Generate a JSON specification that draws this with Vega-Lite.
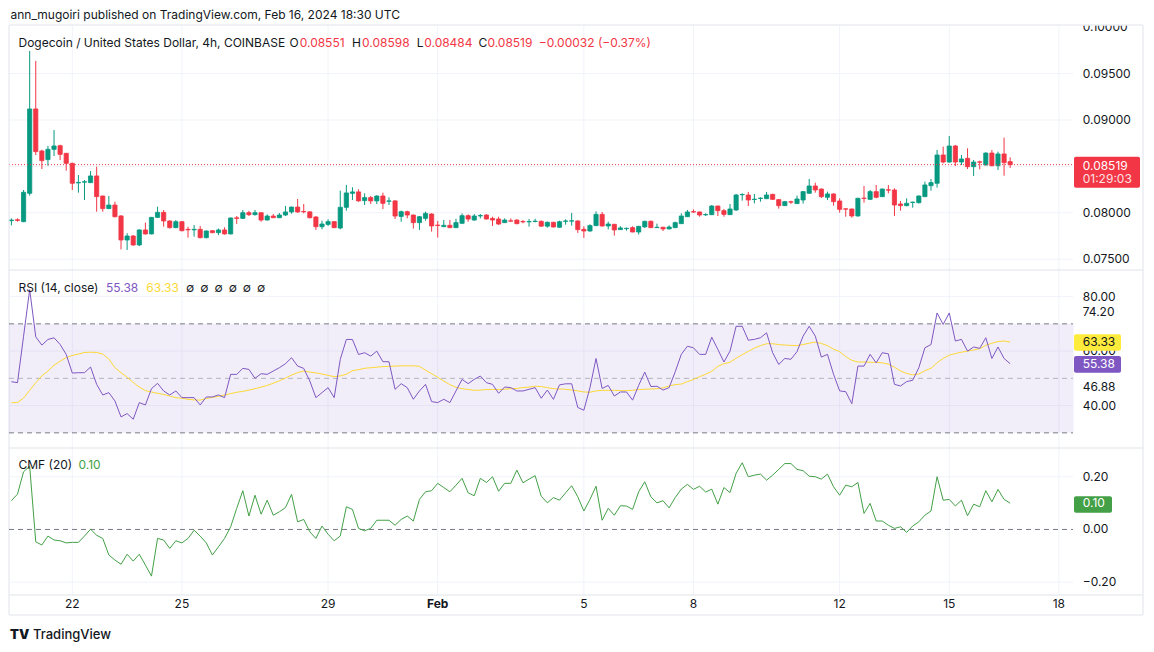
{
"$schema":"https://vega.github.io/schema/vega-lite/v6.json",
"width":1154,"height":652,
"autosize":{"type":"fit","contains":"padding"},
"padding":0,
"background":"#ffffff",
"config":{"view":{"stroke":null},"font":"Inter","text":{"font":"Inter","fontSize":12}},
"data":{"name":"candles","format":{"parse":{"t":"utc:'%Y-%m-%d %H'"}}},
"datasets":{"candles":[
{"t":"2024-01-20 08","o":0.07915,"h":0.0794,"l":0.07865,"c":0.07922,"r":48.78,"m":41.1,"f":0.109},
{"t":"2024-01-20 12","o":0.07925,"h":0.0794,"l":0.07905,"c":0.07918,"r":48.41,"m":41.1,"f":0.134},
{"t":"2024-01-20 16","o":0.07904,"h":0.08246,"l":0.079,"c":0.08221,"r":65.49,"m":42.8,"f":0.219},
{"t":"2024-01-20 20","o":0.0821,"h":0.09744,"l":0.08185,"c":0.09119,"r":82.56,"m":45.6,"f":0.24},
{"t":"2024-01-21 00","o":0.09119,"h":0.09636,"l":0.08623,"c":0.08659,"r":65.24,"m":48.4,"f":-0.047},
{"t":"2024-01-21 04","o":0.08666,"h":0.0868,"l":0.08472,"c":0.08562,"r":62.2,"m":50.9,"f":-0.059},
{"t":"2024-01-21 08","o":0.08573,"h":0.0872,"l":0.08508,"c":0.08684,"r":64.27,"m":52.7,"f":-0.025},
{"t":"2024-01-21 12","o":0.08684,"h":0.08892,"l":0.08612,"c":0.0872,"r":64.88,"m":54.8,"f":-0.04},
{"t":"2024-01-21 16","o":0.08723,"h":0.08734,"l":0.08569,"c":0.0863,"r":62.44,"m":56.3,"f":-0.043},
{"t":"2024-01-21 20","o":0.08641,"h":0.08645,"l":0.08454,"c":0.08533,"r":58.78,"m":57.6,"f":-0.051},
{"t":"2024-01-22 00","o":0.08533,"h":0.0854,"l":0.08246,"c":0.08318,"r":51.95,"m":58.4,"f":-0.049},
{"t":"2024-01-22 04","o":0.08322,"h":0.08407,"l":0.08217,"c":0.08328,"r":52.07,"m":58.9,"f":-0.049},
{"t":"2024-01-22 08","o":0.0833,"h":0.08353,"l":0.08138,"c":0.08335,"r":52.07,"m":59.5,"f":-0.025},
{"t":"2024-01-22 12","o":0.08325,"h":0.0845,"l":0.0832,"c":0.08397,"r":54.15,"m":59.6,"f":0.001},
{"t":"2024-01-22 16","o":0.08397,"h":0.08497,"l":0.08012,"c":0.08174,"r":47.8,"m":59.5,"f":-0.022},
{"t":"2024-01-22 20","o":0.08181,"h":0.08185,"l":0.08012,"c":0.08045,"r":43.9,"m":58.9,"f":-0.034},
{"t":"2024-01-23 00","o":0.08045,"h":0.08181,"l":0.0804,"c":0.08084,"r":44.76,"m":57.1,"f":-0.097},
{"t":"2024-01-23 04","o":0.08084,"h":0.0812,"l":0.0795,"c":0.07958,"r":41.71,"m":53.9,"f":-0.116},
{"t":"2024-01-23 08","o":0.07966,"h":0.07975,"l":0.07606,"c":0.07707,"r":35.85,"m":52.1,"f":-0.132},
{"t":"2024-01-23 12","o":0.07707,"h":0.0778,"l":0.07599,"c":0.0775,"r":37.07,"m":50.4,"f":-0.094},
{"t":"2024-01-23 16","o":0.0775,"h":0.0776,"l":0.07645,"c":0.07653,"r":35.0,"m":48.5,"f":-0.12},
{"t":"2024-01-23 20","o":0.07653,"h":0.07822,"l":0.07642,"c":0.07815,"r":41.1,"m":46.8,"f":-0.094},
{"t":"2024-01-24 00","o":0.07815,"h":0.07894,"l":0.07765,"c":0.07772,"r":40.24,"m":45.5,"f":-0.135},
{"t":"2024-01-24 04","o":0.07772,"h":0.07955,"l":0.07768,"c":0.07951,"r":46.22,"m":45.0,"f":-0.177},
{"t":"2024-01-24 08","o":0.07951,"h":0.08066,"l":0.07945,"c":0.08005,"r":48.17,"m":44.5,"f":-0.034},
{"t":"2024-01-24 12","o":0.08005,"h":0.0803,"l":0.07851,"c":0.07912,"r":45.37,"m":44.1,"f":-0.04},
{"t":"2024-01-24 16","o":0.07912,"h":0.07918,"l":0.0783,"c":0.0784,"r":43.9,"m":43.5,"f":-0.072},
{"t":"2024-01-24 20","o":0.0784,"h":0.07922,"l":0.07835,"c":0.07904,"r":45.37,"m":42.9,"f":-0.043},
{"t":"2024-01-25 00","o":0.07904,"h":0.0791,"l":0.078,"c":0.07807,"r":42.93,"m":42.7,"f":-0.051},
{"t":"2024-01-25 04","o":0.07822,"h":0.0785,"l":0.07732,"c":0.07816,"r":42.93,"m":42.3,"f":-0.034},
{"t":"2024-01-25 08","o":0.07816,"h":0.07868,"l":0.07743,"c":0.07822,"r":42.93,"m":42.1,"f":-0.003},
{"t":"2024-01-25 12","o":0.07822,"h":0.07858,"l":0.07725,"c":0.07732,"r":40.24,"m":42.0,"f":-0.025},
{"t":"2024-01-25 16","o":0.07732,"h":0.0781,"l":0.07725,"c":0.07804,"r":43.17,"m":42.6,"f":-0.051},
{"t":"2024-01-25 20","o":0.07807,"h":0.07812,"l":0.0778,"c":0.07786,"r":43.17,"m":43.0,"f":-0.097},
{"t":"2024-01-26 00","o":0.07786,"h":0.0783,"l":0.0776,"c":0.07815,"r":43.9,"m":43.4,"f":-0.066},
{"t":"2024-01-26 04","o":0.07815,"h":0.07844,"l":0.07765,"c":0.07772,"r":42.93,"m":43.9,"f":-0.034},
{"t":"2024-01-26 08","o":0.07772,"h":0.0795,"l":0.07768,"c":0.07944,"r":51.46,"m":44.4,"f":0.01},
{"t":"2024-01-26 12","o":0.07946,"h":0.07965,"l":0.0788,"c":0.0794,"r":51.46,"m":44.9,"f":0.08},
{"t":"2024-01-26 16","o":0.0794,"h":0.0803,"l":0.07935,"c":0.08001,"r":53.66,"m":45.2,"f":0.147},
{"t":"2024-01-26 20","o":0.08001,"h":0.0802,"l":0.07965,"c":0.0798,"r":53.29,"m":45.7,"f":0.051},
{"t":"2024-01-27 00","o":0.0798,"h":0.0803,"l":0.0797,"c":0.08001,"r":50.0,"m":46.2,"f":0.13},
{"t":"2024-01-27 04","o":0.08001,"h":0.08005,"l":0.07904,"c":0.07922,"r":51.71,"m":46.8,"f":0.058},
{"t":"2024-01-27 08","o":0.07922,"h":0.07983,"l":0.07918,"c":0.07965,"r":51.46,"m":47.4,"f":0.111},
{"t":"2024-01-27 12","o":0.07965,"h":0.07987,"l":0.07943,"c":0.07947,"r":52.68,"m":48.2,"f":0.054},
{"t":"2024-01-27 16","o":0.07947,"h":0.07998,"l":0.07943,"c":0.07976,"r":53.9,"m":49.1,"f":0.067},
{"t":"2024-01-27 20","o":0.07976,"h":0.08074,"l":0.07965,"c":0.08009,"r":55.37,"m":50.1,"f":0.083},
{"t":"2024-01-28 00","o":0.08009,"h":0.08066,"l":0.0799,"c":0.08062,"r":57.56,"m":51.2,"f":0.133},
{"t":"2024-01-28 04","o":0.08062,"h":0.08149,"l":0.08,"c":0.08009,"r":54.51,"m":52.1,"f":0.029},
{"t":"2024-01-28 08","o":0.08014,"h":0.08095,"l":0.07994,"c":0.0801,"r":53.66,"m":52.7,"f":0.038},
{"t":"2024-01-28 12","o":0.0801,"h":0.08016,"l":0.0794,"c":0.07947,"r":49.02,"m":52.3,"f":-0.009},
{"t":"2024-01-28 16","o":0.07955,"h":0.07965,"l":0.07815,"c":0.0785,"r":42.93,"m":52.0,"f":-0.034},
{"t":"2024-01-28 20","o":0.0785,"h":0.07915,"l":0.07822,"c":0.07879,"r":44.76,"m":51.6,"f":0.013},
{"t":"2024-01-29 00","o":0.07875,"h":0.0793,"l":0.07858,"c":0.07905,"r":46.59,"m":51.1,"f":-0.018},
{"t":"2024-01-29 04","o":0.07905,"h":0.0791,"l":0.07835,"c":0.0784,"r":42.93,"m":50.6,"f":-0.043},
{"t":"2024-01-29 08","o":0.07836,"h":0.08239,"l":0.07822,"c":0.08059,"r":56.95,"m":50.9,"f":-0.025},
{"t":"2024-01-29 12","o":0.08059,"h":0.083,"l":0.08023,"c":0.08214,"r":64.27,"m":51.5,"f":0.086},
{"t":"2024-01-29 16","o":0.0821,"h":0.08275,"l":0.08138,"c":0.08225,"r":64.27,"m":52.8,"f":0.076},
{"t":"2024-01-29 20","o":0.08225,"h":0.08253,"l":0.0812,"c":0.08128,"r":58.78,"m":53.2,"f":0.004},
{"t":"2024-01-30 00","o":0.08131,"h":0.0821,"l":0.08084,"c":0.08164,"r":59.39,"m":53.7,"f":-0.005},
{"t":"2024-01-30 04","o":0.08164,"h":0.08181,"l":0.08095,"c":0.08128,"r":58.17,"m":53.9,"f":0.004},
{"t":"2024-01-30 08","o":0.08128,"h":0.0819,"l":0.08095,"c":0.08181,"r":60.0,"m":54.1,"f":0.035},
{"t":"2024-01-30 12","o":0.08181,"h":0.08217,"l":0.08041,"c":0.08102,"r":56.1,"m":54.3,"f":0.035},
{"t":"2024-01-30 16","o":0.08124,"h":0.08167,"l":0.08084,"c":0.08128,"r":56.1,"m":54.4,"f":0.035},
{"t":"2024-01-30 20","o":0.08128,"h":0.08135,"l":0.07933,"c":0.07965,"r":45.98,"m":54.5,"f":0.016},
{"t":"2024-01-31 00","o":0.07961,"h":0.08023,"l":0.07904,"c":0.08012,"r":48.05,"m":54.6,"f":0.038},
{"t":"2024-01-31 04","o":0.08012,"h":0.08023,"l":0.0794,"c":0.07976,"r":46.59,"m":54.6,"f":0.051},
{"t":"2024-01-31 08","o":0.07976,"h":0.0798,"l":0.0783,"c":0.07894,"r":42.32,"m":54.6,"f":0.032},
{"t":"2024-01-31 12","o":0.07894,"h":0.07965,"l":0.07815,"c":0.07958,"r":45.37,"m":54.4,"f":0.114},
{"t":"2024-01-31 16","o":0.0794,"h":0.08012,"l":0.07915,"c":0.07994,"r":47.8,"m":53.0,"f":0.143},
{"t":"2024-01-31 20","o":0.07987,"h":0.07995,"l":0.07797,"c":0.07858,"r":41.46,"m":51.7,"f":0.147},
{"t":"2024-02-01 00","o":0.07868,"h":0.07912,"l":0.07733,"c":0.07863,"r":41.1,"m":50.4,"f":0.175},
{"t":"2024-02-01 04","o":0.07851,"h":0.07922,"l":0.07845,"c":0.07865,"r":42.32,"m":49.0,"f":0.159},
{"t":"2024-02-01 08","o":0.07865,"h":0.07922,"l":0.07835,"c":0.0784,"r":41.1,"m":47.7,"f":0.143},
{"t":"2024-02-01 12","o":0.0784,"h":0.07936,"l":0.07835,"c":0.07894,"r":45.37,"m":46.7,"f":0.168},
{"t":"2024-02-01 16","o":0.07887,"h":0.07994,"l":0.0788,"c":0.07969,"r":49.63,"m":46.2,"f":0.194},
{"t":"2024-02-01 20","o":0.07969,"h":0.07983,"l":0.07904,"c":0.07933,"r":48.05,"m":45.9,"f":0.139},
{"t":"2024-02-02 00","o":0.07922,"h":0.07987,"l":0.07915,"c":0.07965,"r":49.63,"m":45.6,"f":0.128},
{"t":"2024-02-02 04","o":0.07966,"h":0.07987,"l":0.0794,"c":0.0797,"r":50.85,"m":45.7,"f":0.194},
{"t":"2024-02-02 08","o":0.07976,"h":0.07985,"l":0.07928,"c":0.07933,"r":48.41,"m":45.9,"f":0.178},
{"t":"2024-02-02 12","o":0.0794,"h":0.07958,"l":0.07858,"c":0.07922,"r":47.8,"m":45.9,"f":0.2},
{"t":"2024-02-02 16","o":0.07933,"h":0.07958,"l":0.07869,"c":0.07879,"r":44.51,"m":45.9,"f":0.145},
{"t":"2024-02-02 20","o":0.07894,"h":0.0794,"l":0.0789,"c":0.07922,"r":46.83,"m":46.0,"f":0.175},
{"t":"2024-02-03 00","o":0.07914,"h":0.0794,"l":0.07904,"c":0.0791,"r":46.59,"m":46.2,"f":0.175},
{"t":"2024-02-03 04","o":0.07922,"h":0.0793,"l":0.07876,"c":0.07883,"r":45.37,"m":46.3,"f":0.225},
{"t":"2024-02-03 08","o":0.07906,"h":0.07922,"l":0.07887,"c":0.07902,"r":45.37,"m":46.6,"f":0.177},
{"t":"2024-02-03 12","o":0.07902,"h":0.07933,"l":0.07851,"c":0.07906,"r":45.98,"m":46.8,"f":0.191},
{"t":"2024-02-03 16","o":0.07906,"h":0.07936,"l":0.07897,"c":0.0791,"r":46.59,"m":47.1,"f":0.204},
{"t":"2024-02-03 20","o":0.07908,"h":0.07918,"l":0.0785,"c":0.07856,"r":42.7,"m":47.0,"f":0.126},
{"t":"2024-02-04 00","o":0.07856,"h":0.07905,"l":0.0784,"c":0.07898,"r":45.7,"m":46.6,"f":0.101},
{"t":"2024-02-04 04","o":0.07898,"h":0.07902,"l":0.07842,"c":0.07847,"r":42.3,"m":46.2,"f":0.121},
{"t":"2024-02-04 08","o":0.07844,"h":0.07915,"l":0.0784,"c":0.07904,"r":47.6,"m":46.1,"f":0.111},
{"t":"2024-02-04 12","o":0.07908,"h":0.0793,"l":0.07872,"c":0.07912,"r":48.0,"m":46.0,"f":0.139},
{"t":"2024-02-04 16","o":0.0791,"h":0.07998,"l":0.07862,"c":0.07914,"r":48.0,"m":45.7,"f":0.166},
{"t":"2024-02-04 20","o":0.07912,"h":0.07918,"l":0.07783,"c":0.07819,"r":39.3,"m":45.4,"f":0.124},
{"t":"2024-02-05 00","o":0.07822,"h":0.07855,"l":0.07729,"c":0.07804,"r":38.3,"m":45.0,"f":0.07},
{"t":"2024-02-05 04","o":0.07804,"h":0.07876,"l":0.07795,"c":0.07862,"r":46.6,"m":44.9,"f":0.114},
{"t":"2024-02-05 08","o":0.07862,"h":0.08016,"l":0.07855,"c":0.07983,"r":57.3,"m":45.4,"f":0.164},
{"t":"2024-02-05 12","o":0.07983,"h":0.08009,"l":0.0785,"c":0.07858,"r":46.3,"m":45.6,"f":0.035},
{"t":"2024-02-05 16","o":0.07858,"h":0.07905,"l":0.07822,"c":0.07879,"r":47.4,"m":45.6,"f":0.08},
{"t":"2024-02-05 20","o":0.07876,"h":0.0788,"l":0.07754,"c":0.07815,"r":43.5,"m":45.6,"f":0.054},
{"t":"2024-02-06 00","o":0.07819,"h":0.07855,"l":0.07815,"c":0.07837,"r":45.0,"m":45.5,"f":0.09},
{"t":"2024-02-06 04","o":0.07829,"h":0.0784,"l":0.07808,"c":0.07833,"r":45.0,"m":45.5,"f":0.089},
{"t":"2024-02-06 08","o":0.0784,"h":0.07855,"l":0.0779,"c":0.07793,"r":42.0,"m":45.6,"f":0.076},
{"t":"2024-02-06 12","o":0.07793,"h":0.0786,"l":0.07765,"c":0.07854,"r":47.4,"m":45.9,"f":0.143},
{"t":"2024-02-06 16","o":0.07848,"h":0.07915,"l":0.07836,"c":0.07908,"r":52.3,"m":46.0,"f":0.181},
{"t":"2024-02-06 20","o":0.07908,"h":0.07918,"l":0.07835,"c":0.0784,"r":47.0,"m":46.1,"f":0.124},
{"t":"2024-02-07 00","o":0.0784,"h":0.07883,"l":0.07836,"c":0.07844,"r":47.1,"m":46.2,"f":0.101},
{"t":"2024-02-07 04","o":0.07844,"h":0.0785,"l":0.07804,"c":0.07826,"r":45.7,"m":46.5,"f":0.109},
{"t":"2024-02-07 08","o":0.07826,"h":0.07865,"l":0.07822,"c":0.07847,"r":46.6,"m":47.2,"f":0.082},
{"t":"2024-02-07 12","o":0.0784,"h":0.07905,"l":0.07836,"c":0.07894,"r":52.4,"m":47.7,"f":0.121},
{"t":"2024-02-07 16","o":0.07883,"h":0.07994,"l":0.0788,"c":0.07965,"r":58.8,"m":47.9,"f":0.153},
{"t":"2024-02-07 20","o":0.07958,"h":0.0803,"l":0.07955,"c":0.08009,"r":61.8,"m":48.8,"f":0.171},
{"t":"2024-02-08 00","o":0.08012,"h":0.08037,"l":0.08,"c":0.08008,"r":61.2,"m":49.6,"f":0.152},
{"t":"2024-02-08 04","o":0.08009,"h":0.08012,"l":0.07958,"c":0.07976,"r":58.8,"m":50.6,"f":0.164},
{"t":"2024-02-08 08","o":0.07978,"h":0.07994,"l":0.07965,"c":0.07982,"r":58.8,"m":51.5,"f":0.142},
{"t":"2024-02-08 12","o":0.0798,"h":0.08084,"l":0.07975,"c":0.08073,"r":65.1,"m":52.6,"f":0.153},
{"t":"2024-02-08 16","o":0.08073,"h":0.08078,"l":0.07965,"c":0.08023,"r":60.6,"m":54.4,"f":0.096},
{"t":"2024-02-08 20","o":0.08023,"h":0.08041,"l":0.07958,"c":0.07983,"r":56.0,"m":55.4,"f":0.159},
{"t":"2024-02-09 00","o":0.0798,"h":0.08095,"l":0.07976,"c":0.08041,"r":60.0,"m":55.9,"f":0.14},
{"t":"2024-02-09 04","o":0.0803,"h":0.08203,"l":0.0802,"c":0.08192,"r":69.1,"m":57.4,"f":0.213},
{"t":"2024-02-09 08","o":0.08194,"h":0.0821,"l":0.08131,"c":0.08198,"r":69.1,"m":58.7,"f":0.253},
{"t":"2024-02-09 12","o":0.08192,"h":0.08225,"l":0.08073,"c":0.08138,"r":64.0,"m":59.9,"f":0.2},
{"t":"2024-02-09 16","o":0.08143,"h":0.08203,"l":0.08102,"c":0.08147,"r":64.3,"m":61.1,"f":0.206},
{"t":"2024-02-09 20","o":0.08154,"h":0.08167,"l":0.0812,"c":0.08158,"r":64.9,"m":62.0,"f":0.21},
{"t":"2024-02-10 00","o":0.08152,"h":0.08225,"l":0.08148,"c":0.08192,"r":66.7,"m":62.7,"f":0.187},
{"t":"2024-02-10 04","o":0.08199,"h":0.08205,"l":0.0814,"c":0.08145,"r":59.4,"m":62.7,"f":0.206},
{"t":"2024-02-10 08","o":0.08142,"h":0.08148,"l":0.08045,"c":0.08077,"r":55.1,"m":62.4,"f":0.228},
{"t":"2024-02-10 12","o":0.08077,"h":0.08125,"l":0.08073,"c":0.0812,"r":57.3,"m":62.2,"f":0.25},
{"t":"2024-02-10 16","o":0.08119,"h":0.08131,"l":0.08095,"c":0.08115,"r":57.0,"m":62.1,"f":0.25},
{"t":"2024-02-10 20","o":0.08099,"h":0.08185,"l":0.08095,"c":0.08149,"r":59.8,"m":62.0,"f":0.228},
{"t":"2024-02-11 00","o":0.08138,"h":0.08235,"l":0.08099,"c":0.08228,"r":65.5,"m":62.4,"f":0.223},
{"t":"2024-02-11 04","o":0.0821,"h":0.08365,"l":0.08205,"c":0.08289,"r":69.1,"m":62.9,"f":0.202},
{"t":"2024-02-11 08","o":0.08289,"h":0.08325,"l":0.08217,"c":0.08246,"r":65.5,"m":63.3,"f":0.2},
{"t":"2024-02-11 12","o":0.08256,"h":0.08262,"l":0.0816,"c":0.08174,"r":57.8,"m":62.8,"f":0.191},
{"t":"2024-02-11 16","o":0.08167,"h":0.08228,"l":0.08138,"c":0.08203,"r":58.8,"m":62.0,"f":0.21},
{"t":"2024-02-11 20","o":0.08203,"h":0.0821,"l":0.08077,"c":0.0812,"r":51.5,"m":60.7,"f":0.162},
{"t":"2024-02-12 00","o":0.08127,"h":0.08156,"l":0.08001,"c":0.08037,"r":45.4,"m":59.8,"f":0.13},
{"t":"2024-02-12 04","o":0.08043,"h":0.08048,"l":0.07958,"c":0.08039,"r":45.1,"m":58.0,"f":0.168},
{"t":"2024-02-12 08","o":0.08041,"h":0.08045,"l":0.07948,"c":0.07966,"r":40.7,"m":56.6,"f":0.162},
{"t":"2024-02-12 12","o":0.07966,"h":0.08163,"l":0.07958,"c":0.08156,"r":54.5,"m":56.0,"f":0.178},
{"t":"2024-02-12 16","o":0.08158,"h":0.08289,"l":0.08109,"c":0.08154,"r":54.5,"m":56.0,"f":0.061},
{"t":"2024-02-12 20","o":0.08145,"h":0.08246,"l":0.0814,"c":0.08228,"r":58.8,"m":55.9,"f":0.099},
{"t":"2024-02-13 00","o":0.08228,"h":0.083,"l":0.08156,"c":0.08167,"r":55.7,"m":55.9,"f":0.032},
{"t":"2024-02-13 04","o":0.08174,"h":0.08262,"l":0.0817,"c":0.08256,"r":59.4,"m":55.7,"f":0.032},
{"t":"2024-02-13 08","o":0.08248,"h":0.083,"l":0.0821,"c":0.08244,"r":59.0,"m":55.2,"f":0.016},
{"t":"2024-02-13 12","o":0.08246,"h":0.08264,"l":0.07966,"c":0.08084,"r":47.8,"m":54.1,"f":0.004},
{"t":"2024-02-13 16","o":0.08095,"h":0.08127,"l":0.08023,"c":0.08077,"r":47.2,"m":52.7,"f":0.01},
{"t":"2024-02-13 20","o":0.08077,"h":0.08156,"l":0.0807,"c":0.08102,"r":48.8,"m":51.8,"f":-0.011},
{"t":"2024-02-14 00","o":0.08111,"h":0.0812,"l":0.08055,"c":0.08115,"r":49.3,"m":51.3,"f":0.013},
{"t":"2024-02-14 04","o":0.08109,"h":0.08188,"l":0.081,"c":0.08181,"r":53.9,"m":51.6,"f":0.029},
{"t":"2024-02-14 08","o":0.08174,"h":0.08336,"l":0.0817,"c":0.083,"r":61.2,"m":52.8,"f":0.054},
{"t":"2024-02-14 12","o":0.08292,"h":0.08364,"l":0.08239,"c":0.08325,"r":62.4,"m":53.7,"f":0.07},
{"t":"2024-02-14 16","o":0.08318,"h":0.08677,"l":0.08271,"c":0.08623,"r":74.0,"m":55.7,"f":0.2},
{"t":"2024-02-14 20","o":0.08623,"h":0.08713,"l":0.08533,"c":0.08547,"r":69.8,"m":57.3,"f":0.111},
{"t":"2024-02-15 00","o":0.08547,"h":0.08828,"l":0.0854,"c":0.0872,"r":74.0,"m":58.5,"f":0.114},
{"t":"2024-02-15 04","o":0.0872,"h":0.08731,"l":0.08504,"c":0.08547,"r":63.7,"m":59.1,"f":0.089},
{"t":"2024-02-15 08","o":0.08547,"h":0.08623,"l":0.08515,"c":0.0858,"r":64.3,"m":59.6,"f":0.111},
{"t":"2024-02-15 12","o":0.08587,"h":0.08695,"l":0.08472,"c":0.08497,"r":60.0,"m":60.0,"f":0.052},
{"t":"2024-02-15 16","o":0.08497,"h":0.08569,"l":0.08397,"c":0.08547,"r":61.5,"m":60.4,"f":0.096},
{"t":"2024-02-15 20","o":0.08549,"h":0.08562,"l":0.08468,"c":0.08545,"r":61.0,"m":60.9,"f":0.086},
{"t":"2024-02-16 00","o":0.08515,"h":0.08652,"l":0.0851,"c":0.08644,"r":64.9,"m":62.1,"f":0.147},
{"t":"2024-02-16 04","o":0.08644,"h":0.08677,"l":0.085,"c":0.08508,"r":57.3,"m":62.9,"f":0.105},
{"t":"2024-02-16 08","o":0.08508,"h":0.08659,"l":0.08461,"c":0.08634,"r":61.5,"m":63.5,"f":0.152},
{"t":"2024-02-16 12","o":0.08634,"h":0.0881,"l":0.084,"c":0.0854,"r":57.3,"m":63.7,"f":0.114},
{"t":"2024-02-16 16","o":0.08551,"h":0.08598,"l":0.08484,"c":0.08519,"r":55.38,"m":63.33,"f":0.1}
]},
"layer":[
{"layer":[
 {"data":{"values":[{"t":"2024-01-22 00"},{"t":"2024-01-25 00"},{"t":"2024-01-29 00"},{"t":"2024-02-01 00"},{"t":"2024-02-05 00"},{"t":"2024-02-08 00"},{"t":"2024-02-12 00"},{"t":"2024-02-15 00"},{"t":"2024-02-18 00"}],"format":{"parse":{"t":"utc:'%Y-%m-%d %H'"}}},
  "mark":{"type":"rule","stroke":"#F0F3FA","strokeWidth":1},
  "encoding":{"x":{"field":"t","type":"temporal","axis":null},"y":{"datum":0.100237,"type":"quantitative","axis":null},"y2":{"datum":0.038815}}},
 {"data":{"values":[{"v":0.075},{"v":0.08},{"v":0.085},{"v":0.09},{"v":0.095}]},
  "mark":{"type":"rule","stroke":"#F0F3FA","strokeWidth":1},
  "encoding":{"x":{"datum":{"year":2024,"month":1,"date":20,"hours":6,"minutes":25,"utc":true},"type":"temporal","axis":null},"x2":{"datum":{"year":2024,"month":2,"date":18,"hours":9,"minutes":16,"utc":true}},"y":{"field":"v","type":"quantitative","axis":null}}},
 {"mark":{"type":"rule","strokeWidth":1},
  "encoding":{
   "x":{"field":"t","type":"temporal","scale":{"type":"utc","domain":[{"year":2024,"month":1,"date":20,"hours":0,"minutes":30,"seconds":36,"utc":true},{"year":2024,"month":2,"date":20,"hours":14,"minutes":28,"seconds":23,"utc":true}],"nice":false,"padding":0},"axis":null},
   "y":{"field":"l","type":"quantitative","scale":{"domain":[0.032672,0.102931],"zero":false,"nice":false},"axis":null},
   "y2":{"field":"h"},
   "color":{"condition":{"test":"datum.c >= datum.o","value":"#089981"},"value":"#F23645"}}},
 {"mark":{"type":"bar","width":4.2,"strokeWidth":0.8},
  "encoding":{"x":{"field":"t","type":"temporal","axis":null},"y":{"field":"o","type":"quantitative","axis":null},"y2":{"field":"c"},
   "fill":{"condition":{"test":"datum.c >= datum.o","value":"#089981"},"value":"#F23645"},
   "stroke":{"condition":{"test":"datum.c >= datum.o","value":"#089981"},"value":"#F23645"}}},
 {"data":{"values":[{}]},"mark":{"type":"rule","stroke":"#F23645","strokeDash":[1,2],"strokeWidth":1},
  "encoding":{"x":{"datum":{"year":2024,"month":1,"date":20,"hours":6,"minutes":25,"utc":true},"type":"temporal","axis":null},"x2":{"datum":{"year":2024,"month":2,"date":18,"hours":9,"minutes":16,"utc":true}},"y":{"datum":0.08519,"type":"quantitative","axis":null}}},
 {"data":{"values":[{"v":0.075},{"v":0.08},{"v":0.09},{"v":0.095},{"v":0.1}]},
  "mark":{"type":"text","align":"left","baseline":"middle","dx":8.7,"fontSize":12,"color":"#131722","font":"Inter"},
  "encoding":{"x":{"datum":{"year":2024,"month":2,"date":18,"hours":9,"minutes":56,"utc":true},"type":"temporal","axis":null},"y":{"field":"v","type":"quantitative","axis":null},"text":{"field":"v","type":"quantitative","format":".5f"}}},
 {"data":{"values":[{}]},"mark":{"type":"rect","fill":"#ffffff"},
  "encoding":{"x":{"datum":{"year":2024,"month":2,"date":18,"hours":9,"minutes":36,"utc":true},"type":"temporal","axis":null},"x2":{"datum":{"year":2024,"month":2,"date":20,"hours":14,"minutes":28,"seconds":23,"utc":true}},"y":{"datum":0.100183,"type":"quantitative","axis":null},"y2":{"datum":0.102931}}},
 {"data":{"values":[{}]},
  "encoding":{"x":{"datum":{"year":2024,"month":1,"date":20,"hours":6,"minutes":25,"utc":true},"type":"temporal","axis":null},"x2":{"datum":{"year":2024,"month":2,"date":20,"hours":7,"minutes":15,"utc":true}}},
  "layer":[
   {"mark":{"type":"rule","stroke":"#E0E3EB","strokeWidth":1},"encoding":{"y":{"datum":0.100237,"type":"quantitative","axis":null}}},
   {"mark":{"type":"rule","stroke":"#E0E3EB","strokeWidth":1},"encoding":{"y":{"datum":0.073836,"type":"quantitative","axis":null}}},
   {"mark":{"type":"rule","stroke":"#E0E3EB","strokeWidth":1},"encoding":{"y":{"datum":0.054655,"type":"quantitative","axis":null}}},
   {"mark":{"type":"rule","stroke":"#E0E3EB","strokeWidth":1},"encoding":{"y":{"datum":0.038815,"type":"quantitative","axis":null}}},
   {"mark":{"type":"rule","stroke":"#E0E3EB","strokeWidth":1},"encoding":{"y":{"datum":0.036659,"type":"quantitative","axis":null}}}
  ]},
 {"data":{"values":[{}]},
  "encoding":{"y":{"datum":0.100237,"type":"quantitative","axis":null},"y2":{"datum":0.036659}},
  "layer":[
   {"mark":{"type":"rule","stroke":"#E0E3EB","strokeWidth":1},"encoding":{"x":{"datum":{"year":2024,"month":1,"date":20,"hours":6,"minutes":25,"utc":true},"type":"temporal","axis":null}}},
   {"mark":{"type":"rule","stroke":"#E0E3EB","strokeWidth":1},"encoding":{"x":{"datum":{"year":2024,"month":2,"date":20,"hours":7,"minutes":15,"utc":true},"type":"temporal","axis":null}}}
  ]},
 {"data":{"values":[{}]},
  "layer":[
   {"mark":{"type":"rect","fill":"#F23645","cornerRadius":2},"encoding":{"x":{"datum":{"year":2024,"month":2,"date":18,"hours":9,"minutes":56,"utc":true},"type":"temporal","axis":null},"x2":{"datum":{"year":2024,"month":2,"date":20,"hours":5,"minutes":17,"utc":true}},"y":{"datum":0.082705,"type":"quantitative","axis":null},"y2":{"datum":0.086045}}},
   {"mark":{"type":"text","text":"0.08519","align":"left","baseline":"middle","dx":8.7,"fontSize":12,"color":"#ffffff","font":"Inter"},"encoding":{"x":{"datum":{"year":2024,"month":2,"date":18,"hours":9,"minutes":56,"utc":true},"type":"temporal","axis":null},"y":{"datum":0.085075,"type":"quantitative","axis":null}}},
   {"mark":{"type":"text","text":"01:29:03","align":"left","baseline":"middle","dx":8.7,"fontSize":12,"color":"#ffffff","opacity":0.85,"font":"Inter"},"encoding":{"x":{"datum":{"year":2024,"month":2,"date":18,"hours":9,"minutes":56,"utc":true},"type":"temporal","axis":null},"y":{"datum":0.08361,"type":"quantitative","axis":null}}}
  ]},
 {"data":{"values":[{}]},"mark":{"type":"text","text":"ann_mugoiri published on TradingView.com, Feb 16, 2024 18:30 UTC","align":"left","baseline":"middle","fontSize":12,"color":"#131722","font":"Inter"},
  "encoding":{"x":{"datum":{"year":2024,"month":1,"date":20,"hours":7,"minutes":24,"utc":true},"type":"temporal","axis":null},"y":{"datum":0.101315,"type":"quantitative","axis":null}}},
 {"data":{"values":[{}]},
  "encoding":{"x":{"datum":{"year":2024,"month":1,"date":20,"hours":12,"minutes":40,"utc":true},"type":"temporal","axis":null},"y":{"datum":0.098265,"type":"quantitative","axis":null}},
  "layer":[
   {"mark":{"type":"text","text":"Dogecoin / United States Dollar, 4h, COINBASE","align":"left","baseline":"middle","fontSize":12,"color":"#131722","font":"Inter"}},
   {"mark":{"type":"text","text":"O","align":"left","baseline":"middle","dx":271.1,"fontSize":12,"color":"#131722","font":"Inter"}},
   {"mark":{"type":"text","text":"0.08551","align":"left","baseline":"middle","dx":281.2,"fontSize":12,"color":"#F23645","font":"Inter"}},
   {"mark":{"type":"text","text":"H","align":"left","baseline":"middle","dx":333.4,"fontSize":12,"color":"#131722","font":"Inter"}},
   {"mark":{"type":"text","text":"0.08598","align":"left","baseline":"middle","dx":343.5,"fontSize":12,"color":"#F23645","font":"Inter"}},
   {"mark":{"type":"text","text":"L","align":"left","baseline":"middle","dx":398.2,"fontSize":12,"color":"#131722","font":"Inter"}},
   {"mark":{"type":"text","text":"0.08484","align":"left","baseline":"middle","dx":405.7,"fontSize":12,"color":"#F23645","font":"Inter"}},
   {"mark":{"type":"text","text":"C","align":"left","baseline":"middle","dx":460,"fontSize":12,"color":"#131722","font":"Inter"}},
   {"mark":{"type":"text","text":"0.08519","align":"left","baseline":"middle","dx":468.9,"fontSize":12,"color":"#F23645","font":"Inter"}},
   {"mark":{"type":"text","text":"−0.00032 (−0.37%)","align":"left","baseline":"middle","dx":520.2,"fontSize":12,"color":"#F23645","font":"Inter"}}
  ]}
]},
{"layer":[
 {"data":{"values":[{"v":40},{"v":60},{"v":80}]},"mark":{"type":"rule","stroke":"#F0F3FA","strokeWidth":1},
  "encoding":{"x":{"datum":{"year":2024,"month":1,"date":20,"hours":6,"minutes":25,"utc":true},"type":"temporal","axis":null},"x2":{"datum":{"year":2024,"month":2,"date":18,"hours":9,"minutes":16,"utc":true}},"y":{"field":"v","type":"quantitative","axis":null}}},
 {"data":{"values":[{}]},"mark":{"type":"rect","fill":"#7E57C2","opacity":0.1},
  "encoding":{"x":{"datum":{"year":2024,"month":1,"date":20,"hours":6,"minutes":25,"utc":true},"type":"temporal","axis":null},"x2":{"datum":{"year":2024,"month":2,"date":18,"hours":9,"minutes":36,"utc":true}},"y":{"datum":30,"type":"quantitative","axis":null},"y2":{"datum":70}}},
 {"data":{"values":[{"v":70},{"v":30}]},"mark":{"type":"rule","stroke":"#787B86","strokeDash":[5,4],"strokeWidth":1},
  "encoding":{"x":{"datum":{"year":2024,"month":1,"date":20,"hours":6,"minutes":25,"utc":true},"type":"temporal","axis":null},"x2":{"datum":{"year":2024,"month":2,"date":18,"hours":9,"minutes":16,"utc":true}},"y":{"field":"v","type":"quantitative","axis":null}}},
 {"data":{"values":[{"v":50}]},"mark":{"type":"rule","stroke":"#787B86","strokeDash":[5,4],"strokeWidth":1,"opacity":0.5},
  "encoding":{"x":{"datum":{"year":2024,"month":1,"date":20,"hours":6,"minutes":25,"utc":true},"type":"temporal","axis":null},"x2":{"datum":{"year":2024,"month":2,"date":18,"hours":9,"minutes":16,"utc":true}},"y":{"field":"v","type":"quantitative","axis":null}}},
 {"mark":{"type":"line","stroke":"#FDD835","strokeWidth":1},
  "encoding":{"x":{"field":"t","type":"temporal","axis":null},"y":{"field":"m","type":"quantitative","axis":null}}},
 {"mark":{"type":"line","stroke":"#7E57C2","strokeWidth":1},
  "encoding":{"x":{"field":"t","type":"temporal","axis":null},
   "y":{"field":"r","type":"quantitative","scale":{"domain":[-50.42,188.84],"zero":false,"nice":false},"axis":null}}},
 {"data":{"values":[{"v":40},{"v":46.88},{"v":60},{"v":74.2},{"v":80}]},
  "mark":{"type":"text","align":"left","baseline":"middle","dx":8.7,"fontSize":12,"color":"#131722","font":"Inter"},
  "encoding":{"x":{"datum":{"year":2024,"month":2,"date":18,"hours":9,"minutes":56,"utc":true},"type":"temporal","axis":null},"y":{"field":"v","type":"quantitative","axis":null},"text":{"field":"v","type":"quantitative","format":".2f"}}},
 {"data":{"values":[{}]},
  "encoding":{"x":{"datum":{"year":2024,"month":1,"date":20,"hours":12,"minutes":40,"utc":true},"type":"temporal","axis":null},"y":{"datum":83.05,"type":"quantitative","axis":null}},
  "layer":[
   {"mark":{"type":"text","text":"RSI (14, close)","align":"left","baseline":"middle","fontSize":12,"color":"#131722","font":"Inter"}},
   {"mark":{"type":"text","text":"55.38","align":"left","baseline":"middle","dx":87.5,"fontSize":12,"color":"#7E57C2","font":"Inter"}},
   {"mark":{"type":"text","text":"63.33","align":"left","baseline":"middle","dx":127.8,"fontSize":12,"color":"#FDD835","font":"Inter"}},
   {"mark":{"type":"text","text":"∅\u2002∅\u2002∅\u2002∅\u2002∅\u2002∅","align":"left","baseline":"middle","dx":167.5,"fontSize":12,"color":"#131722","font":"Inter"}}
  ]},
 {"data":{"values":[{}]},
  "encoding":{"x":{"datum":{"year":2024,"month":2,"date":18,"hours":9,"minutes":56,"utc":true},"type":"temporal","axis":null}},
  "layer":[
   {"mark":{"type":"rect","fill":"#FFEB3B","cornerRadius":2},"encoding":{"x2":{"datum":{"year":2024,"month":2,"date":19,"hours":16,"minutes":48,"utc":true}},"y":{"datum":60.15,"type":"quantitative","axis":null},"y2":{"datum":66.17}}},
   {"mark":{"type":"text","text":"63.33","align":"left","baseline":"middle","dx":8.7,"fontSize":12,"color":"#131722","font":"Inter"},"encoding":{"y":{"datum":63.33,"type":"quantitative","axis":null}}},
   {"mark":{"type":"rect","fill":"#7E57C2","cornerRadius":2},"encoding":{"x2":{"datum":{"year":2024,"month":2,"date":19,"hours":16,"minutes":48,"utc":true}},"y":{"datum":52.07,"type":"quantitative","axis":null},"y2":{"datum":58.2}}},
   {"mark":{"type":"text","text":"55.38","align":"left","baseline":"middle","dx":8.7,"fontSize":12,"color":"#ffffff","font":"Inter"},"encoding":{"y":{"datum":55.38,"type":"quantitative","axis":null}}}
  ]}
]},
{"layer":[
 {"data":{"values":[{"v":0.2},{"v":-0.2}]},"mark":{"type":"rule","stroke":"#F0F3FA","strokeWidth":1},
  "encoding":{"x":{"datum":{"year":2024,"month":1,"date":20,"hours":6,"minutes":25,"utc":true},"type":"temporal","axis":null},"x2":{"datum":{"year":2024,"month":2,"date":18,"hours":9,"minutes":16,"utc":true}},"y":{"field":"v","type":"quantitative","axis":null}}},
 {"data":{"values":[{"v":0}]},"mark":{"type":"rule","stroke":"#787B86","strokeDash":[5,4],"strokeWidth":1},
  "encoding":{"x":{"datum":{"year":2024,"month":1,"date":20,"hours":6,"minutes":25,"utc":true},"type":"temporal","axis":null},"x2":{"datum":{"year":2024,"month":2,"date":18,"hours":9,"minutes":16,"utc":true}},"y":{"field":"v","type":"quantitative","axis":null}}},
 {"mark":{"type":"line","stroke":"#43A047","strokeWidth":1},
  "encoding":{"x":{"field":"t","type":"temporal","axis":null},
   "y":{"field":"f","type":"quantitative","scale":{"domain":[-0.4649,2.0087],"zero":false,"nice":false},"axis":null}}},
 {"data":{"values":[{"v":-0.2},{"v":0},{"v":0.2}]},
  "mark":{"type":"text","align":"left","baseline":"middle","dx":8.7,"fontSize":12,"color":"#131722","font":"Inter"},
  "encoding":{"x":{"datum":{"year":2024,"month":2,"date":18,"hours":9,"minutes":56,"utc":true},"type":"temporal","axis":null},"y":{"field":"v","type":"quantitative","axis":null},"text":{"field":"v","type":"quantitative","format":".2f"}}},
 {"data":{"values":[{"t":"2024-01-22 00","label":"22"},{"t":"2024-01-25 00","label":"25"},{"t":"2024-01-29 00","label":"29"},{"t":"2024-02-05 00","label":"5"},{"t":"2024-02-08 00","label":"8"},{"t":"2024-02-12 00","label":"12"},{"t":"2024-02-15 00","label":"15"},{"t":"2024-02-18 00","label":"18"}],"format":{"parse":{"t":"utc:'%Y-%m-%d %H'"}}},
  "mark":{"type":"text","align":"center","baseline":"middle","fontSize":12,"color":"#131722","font":"Inter"},
  "encoding":{"x":{"field":"t","type":"temporal","axis":null},"y":{"datum":-0.2835,"type":"quantitative","axis":null},"text":{"field":"label","type":"nominal"}}},
 {"data":{"values":[{"t":"2024-02-01 00","label":"Feb"}],"format":{"parse":{"t":"utc:'%Y-%m-%d %H'"}}},
  "mark":{"type":"text","align":"center","baseline":"middle","fontSize":12,"fontWeight":"bold","color":"#131722","font":"Inter"},
  "encoding":{"x":{"field":"t","type":"temporal","axis":null},"y":{"datum":-0.2835,"type":"quantitative","axis":null},"text":{"field":"label","type":"nominal"}}},
 {"data":{"values":[{}]},
  "encoding":{"x":{"datum":{"year":2024,"month":1,"date":20,"hours":12,"minutes":40,"utc":true},"type":"temporal","axis":null},"y":{"datum":0.244,"type":"quantitative","axis":null}},
  "layer":[
   {"mark":{"type":"text","text":"CMF (20)","align":"left","baseline":"middle","fontSize":12,"color":"#131722","font":"Inter"}},
   {"mark":{"type":"text","text":"0.10","align":"left","baseline":"middle","dx":60,"fontSize":12,"color":"#43A047","font":"Inter"}}
  ]},
 {"data":{"values":[{}]},
  "encoding":{"x":{"datum":{"year":2024,"month":2,"date":18,"hours":9,"minutes":56,"utc":true},"type":"temporal","axis":null}},
  "layer":[
   {"mark":{"type":"rect","fill":"#43A047","cornerRadius":2},"encoding":{"x2":{"datum":{"year":2024,"month":2,"date":19,"hours":10,"minutes":53,"utc":true}},"y":{"datum":0.063,"type":"quantitative","axis":null},"y2":{"datum":0.1264}}},
   {"mark":{"type":"text","text":"0.10","align":"left","baseline":"middle","dx":8.7,"fontSize":12,"color":"#ffffff","font":"Inter"},"encoding":{"y":{"datum":0.1,"type":"quantitative","axis":null}}}
  ]},
 {"data":{"values":[{}]},
  "encoding":{"x":{"datum":{"year":2024,"month":1,"date":20,"hours":7,"minutes":5,"utc":true},"type":"temporal","axis":null},"y":{"datum":-0.4011,"type":"quantitative","axis":null}},
  "layer":[
   {"mark":{"type":"text","text":"TV","align":"left","baseline":"middle","fontSize":13,"fontWeight":900,"color":"#131722","font":"Inter"}},
   {"mark":{"type":"text","text":"TradingView","align":"left","baseline":"middle","dx":23,"fontSize":13,"fontWeight":500,"color":"#131722","font":"Inter"}}
  ]}
]}
],
"resolve":{"scale":{"y":"independent"}}
}
